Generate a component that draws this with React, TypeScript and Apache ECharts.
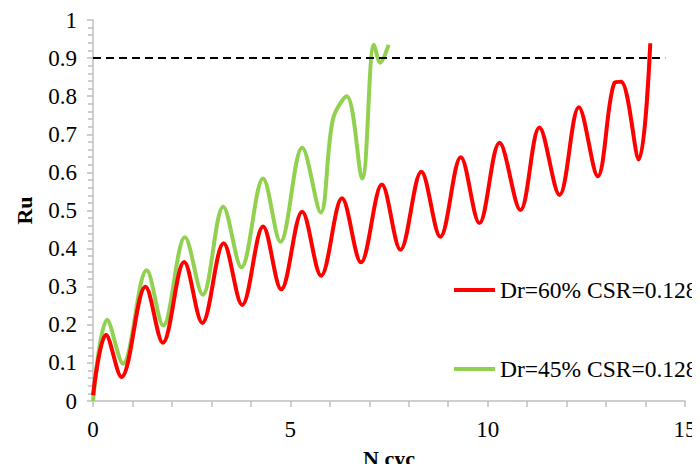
import React, { useEffect, useRef } from "react";
import * as echarts from "echarts";

// Pore pressure ratio Ru against number of cycles, two relative densities
const dr60: [number, number][] = [
  [0, 0.015], [0.33, 0.174], [0.72, 0.063], [1.33, 0.3], [1.77, 0.153],
  [2.31, 0.365], [2.77, 0.205], [3.31, 0.414], [3.78, 0.252], [4.31, 0.458],
  [4.77, 0.293], [5.3, 0.497], [5.78, 0.329], [6.31, 0.532], [6.79, 0.364],
  [7.32, 0.568], [7.79, 0.397], [8.32, 0.602], [8.8, 0.431], [9.32, 0.64],
  [9.79, 0.467], [10.3, 0.678], [10.83, 0.501], [11.31, 0.718], [11.82, 0.541],
  [12.31, 0.771], [12.79, 0.59], [13.22, 0.836], [13.38, 0.838], [13.83, 0.634],
  [14.12, 0.939],
];

const dr45: [number, number][] = [
  [0, 0], [0.36, 0.213], [0.76, 0.098], [1.36, 0.343], [1.78, 0.198],
  [2.33, 0.43], [2.78, 0.279], [3.3, 0.51], [3.76, 0.351], [4.31, 0.584],
  [4.75, 0.418], [5.3, 0.665], [5.77, 0.495], [6.08, 0.74], [6.43, 0.8],
  [6.82, 0.584], [7.12, 0.935], [7.28, 0.888], [7.49, 0.935],
];

const limitLine: [number, number][] = [
  [0, 0.9], [14.5, 0.9],
];

const seriesNames = ["Dr=60% CSR=0.128", "Dr=45% CSR=0.128"];

const FONT = "Liberation Serif";
const AXIS_GREY = "#bfbfbf";

export default function App() {
  const ref = useRef<HTMLDivElement>(null);

  useEffect(() => {
    if (!ref.current) return;
    const chart = echarts.init(ref.current, undefined, { renderer: "svg" });
    chart.setOption({
      animation: false,
      textStyle: { fontFamily: FONT },
      grid: {
        left: 93,
        right: 15,
        top: 20,
        bottom: 71,
        containLabel: false,
        outerBoundsMode: "none",
      },
      legend: {
        orient: "vertical",
        left: 449,
        top: 273,
        icon: "rect",
        itemWidth: 41,
        itemHeight: 4,
        itemGap: 55,
        data: seriesNames,
        textStyle: { fontFamily: FONT, fontSize: 23.5, color: "#000", lineHeight: 24 },
      },
      xAxis: {
        type: "value",
        min: 0,
        max: 15,
        interval: 5,
        name: "N cyc",
        nameLocation: "middle",
        nameGap: 46,
        nameTextStyle: { fontFamily: FONT, fontSize: 22, fontWeight: "bold", color: "#000" },
        axisLine: { show: true, lineStyle: { color: AXIS_GREY, width: 1.5 } },
        axisTick: { show: true, inside: false, length: 6, lineStyle: { color: AXIS_GREY, width: 1.5 } },
        minorTick: { show: true, splitNumber: 5, length: 6, lineStyle: { color: AXIS_GREY, width: 1.5 } },
        splitLine: { show: false },
        axisLabel: { fontFamily: FONT, fontSize: 23, color: "#000", margin: 17 },
      },
      yAxis: {
        type: "value",
        min: 0,
        max: 1,
        interval: 0.1,
        name: "Ru",
        nameLocation: "middle",
        nameRotate: 90,
        nameGap: 58,
        nameTextStyle: { fontFamily: FONT, fontSize: 22, fontWeight: "bold", color: "#000" },
        axisLine: { show: true, lineStyle: { color: AXIS_GREY, width: 1.5 } },
        axisTick: { show: true, inside: false, length: 6, lineStyle: { color: AXIS_GREY, width: 1.5 } },
        minorTick: { show: true, splitNumber: 5, length: 5, lineStyle: { color: AXIS_GREY, width: 1.5 } },
        splitLine: { show: false },
        axisLabel: { fontFamily: FONT, fontSize: 23, color: "#000", margin: 16 },
      },
      series: [
        {
          name: seriesNames[0],
          type: "line",
          data: dr60,
          smooth: 0.35,
          symbol: "none",
          lineStyle: { color: "#ff0000", width: 4 },
          itemStyle: { color: "#ff0000" },
          z: 3,
        },
        {
          name: seriesNames[1],
          type: "line",
          data: dr45,
          smooth: 0.35,
          symbol: "none",
          lineStyle: { color: "#92d050", width: 4 },
          itemStyle: { color: "#92d050" },
          z: 2,
        },
        {
          name: "limit",
          type: "line",
          data: limitLine,
          symbol: "none",
          lineStyle: { color: "#000", width: 2, type: [8, 5] },
          z: 4,
        },
      ],
    });
    return () => chart.dispose();
  }, []);

  return <div ref={ref} style={{ width: 700, height: 472, margin: -8 }} />;
}
